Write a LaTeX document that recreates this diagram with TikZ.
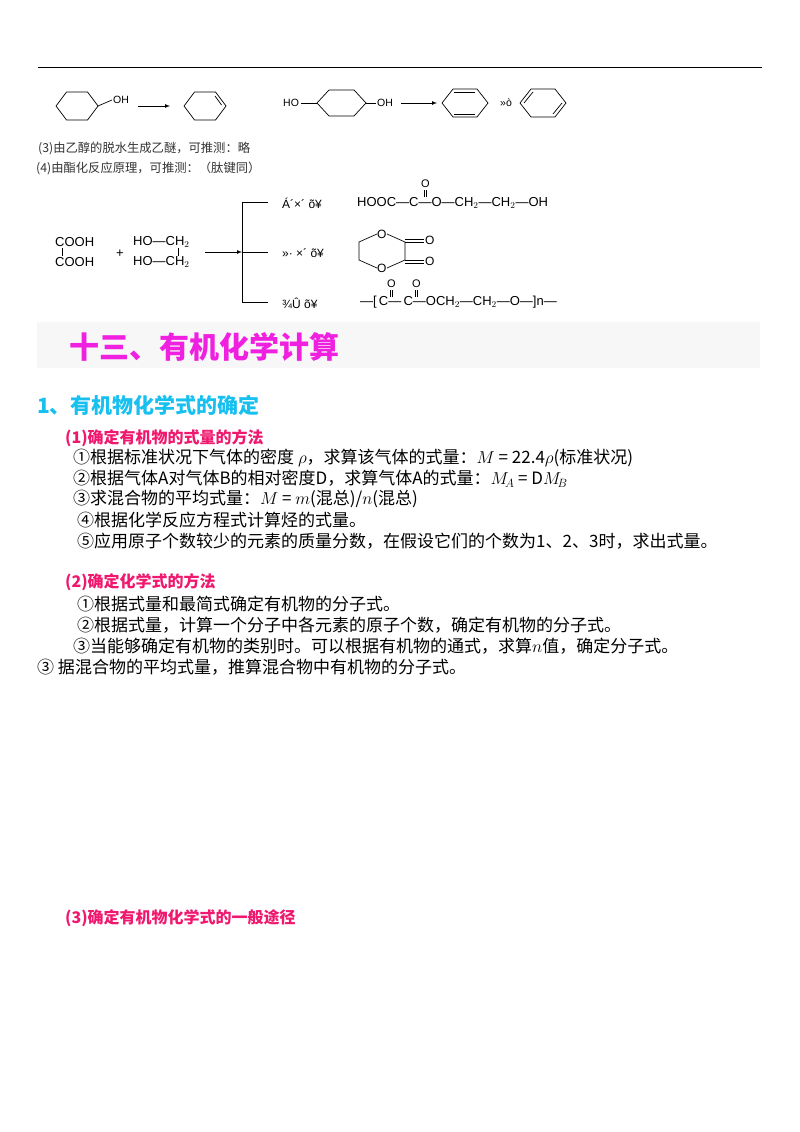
\documentclass[tikz,border=0pt]{standalone}
\usepackage{fontspec}
\setmainfont{Liberation Sans}
\newfontfamily\cjk{Noto Sans CJK SC}
\begin{document}
\begin{tikzpicture}[x=1pt,y=-1pt,
  tx/.style={anchor=west,inner sep=0pt,font=\cjk\fontsize{17}{18}\selectfont},
  sm/.style={anchor=west,inner sep=0pt,font=\cjk\fontsize{12.3}{14}\selectfont,text=black!80},
  chem/.style={anchor=west,inner sep=0pt,font=\fontsize{13}{15}\selectfont},
  lab/.style={anchor=west,inner sep=0pt,font=\fontsize{10.5}{12}\selectfont},
  hd/.style={anchor=west,inner sep=0pt,font=\cjk\bfseries\fontsize{16}{18}\selectfont,text=red1},
  bond/.style={line width=0.7pt},
  arr/.style={line width=0.7pt,-latex}]
\definecolor{red1}{HTML}{F0186E}
\definecolor{mag}{HTML}{F020E0}
\definecolor{cyanh}{HTML}{18C0F0}
\useasboundingbox (0,0) rectangle (800,1132);
\fill[white] (0,0) rectangle (800,1132);
\draw[line width=0.8pt] (38,67) -- (762,67);
% cyclohexanol
\draw[bond] (56,106)--(66.5,92)--(87.5,92)--(98,106)--(87.5,120)--(66.5,120)--cycle;
\draw[bond] (98,106)--(112,100);
\node[lab] (oh1) at (113,100) {OH};
\coordinate (a1s) at (138,106); \coordinate (a1e) at (170,106);
\draw[arr] (a1s)--(a1e);
\draw[bond] (184,106)--(194.5,92)--(215.5,92)--(226,106)--(215.5,120)--(194.5,120)--cycle;
\draw[bond] (215,96)--(221.5,105);
% diol
\node[lab] (ho2) at (283,103) {HO};
\draw[bond] (301,103)--(317,103);
\draw[bond] (317,103)--(329,90)--(354,90)--(366,103)--(354,116)--(329,116)--cycle;
\draw[bond] (366,103)--(376,103);
\node[lab] (oh2) at (377,103) {OH};
\coordinate (a2s) at (401,103); \coordinate (a2e) at (437,103);
\draw[arr] (a2s)--(a2e);
\foreach \cx in {465,543}{
 \draw[bond] (\cx-12,89)--(\cx+12,89)--(\cx+23,103)--(\cx+12,117)--(\cx-12,117)--(\cx-23,103)--cycle;
}
\draw[bond] (465-11,92)--(465+10,92); \draw[bond] (465-11,114)--(465+10,114);
\node[lab] (or1) at (500,103) {»ò};
\draw[bond] (543-19,103)--(543-10,92); \draw[bond] (543+19,103)--(543+10,114);
% text lines
\node[sm] (t3) at (38,149) {(3)由乙醇的脱水生成乙醚，可推测：略};
\node[sm] (t4) at (36,168) {(4)由酯化反应原理，可推测：（肽键同）};
% esterification
\node[chem] (c1) at (55,242) {COOH};
\node[chem] (c2) at (55,262) {COOH};
\draw[bond] (62,248)--(62,256);
\node[chem] (plus) at (116,254) {+};
\node[chem] (h1) at (133,242) {HO—CH$_2$};
\node[chem] (h2) at (133,262) {HO—CH$_2$};
\draw[bond] (178,248)--(178,256);
\coordinate (br) at (242,252);
\draw[arr] (205,252)--(br);
\draw[line width=0.8pt] (268,202)--(242,202)--(242,302)--(268,302);
\draw[line width=0.6pt] (242,252)--(268,252);
\node[lab,font=\fontsize{12}{13}\selectfont] (l1) at (282,203) {Á´×´ õ¥};
\node[lab,font=\fontsize{12}{13}\selectfont] (l2) at (282,253) {»· ×´ õ¥};
\node[lab,font=\fontsize{12}{13}\selectfont] (l3) at (282,303) {¾Û õ¥};
\node[chem] (f1) at (357,203) {HOOC—C—O—CH$_2$—CH$_2$—OH};
\node[chem,font=\fontsize{11}{12}\selectfont] (o1) at (421,184) {O};
\draw[bond] (424,190)--(424,197); \draw[bond] (426,190)--(426,197);
% ring
\node[chem,font=\fontsize{12}{13}\selectfont] (oa) at (377,234) {O};
\node[chem,font=\fontsize{12}{13}\selectfont] (ob) at (377,268) {O};
\draw[bond] (377,234)--(359,242)--(359,260)--(377,268);
\draw[bond] (387,234)--(405,242)--(405,260)--(387,268);
\draw[bond] (405,239)--(424,239); \draw[bond] (405,242)--(424,242);
\draw[bond] (405,260)--(424,260); \draw[bond] (405,263)--(424,263);
\node[chem,font=\fontsize{12}{13}\selectfont] (oc) at (425,240.5) {O};
\node[chem,font=\fontsize{12}{13}\selectfont] (od) at (425,261.5) {O};
% polymer
\node[chem] (f3) at (360,302) {—[\,C—\,C—OCH$_2$—CH$_2$—O—]n—};
\node[chem,font=\fontsize{11}{12}\selectfont] (o3a) at (387,284) {O};
\node[chem,font=\fontsize{11}{12}\selectfont] (o3b) at (412,284) {O};
\draw[bond] (390,290)--(390,297); \draw[bond] (392,290)--(392,297);
\draw[bond] (415,290)--(415,297); \draw[bond] (417,290)--(417,297);
% header band
\fill[black!3] (37,322) rectangle (760,368);
\node[anchor=west,inner sep=0pt,font=\cjk\bfseries\fontsize{30}{33}\selectfont,text=mag] (title) at (69,347) {十三、有机化学计算};
\node[anchor=west,inner sep=0pt,font=\cjk\bfseries\fontsize{21}{23}\selectfont,text=cyanh] (h1x) at (37,405) {1、有机物化学式的确定};
\node[hd] (s1) at (65,438) {(1)确定有机物的式量的方法};
\node[tx] (i1) at (73,458) {①根据标准状况下气体的密度 $\rho$，求算该气体的式量：$M$ = 22.4$\rho$(标准状况)};
\node[tx] (i2) at (73,479) {②根据气体A对气体B的相对密度D，求算气体A的式量：$M_{\!A}$ = D$M_{\!B}$};
\node[tx] (i3) at (73,499) {③求混合物的平均式量：$M$ = $m$(混总)/$n$(混总)};
\node[tx] (i4) at (77,520) {④根据化学反应方程式计算烃的式量。};
\node[tx] (i5) at (77,541) {⑤应用原子个数较少的元素的质量分数，在假设它们的个数为1、2、3时，求出式量。};
\node[hd] (s2) at (65,582) {(2)确定化学式的方法};
\node[tx] (j1) at (77,604) {①根据式量和最简式确定有机物的分子式。};
\node[tx] (j2) at (77,625) {②根据式量，计算一个分子中各元素的原子个数，确定有机物的分子式。};
\node[tx] (j3) at (73,646) {③当能够确定有机物的类别时。可以根据有机物的通式，求算$n$值，确定分子式。};
\node[tx] (j4) at (37,667) {③ 据混合物的平均式量，推算混合物中有机物的分子式。};
\node[hd] (s3) at (65,918) {(3)确定有机物化学式的一般途径};
\end{tikzpicture}
\end{document}
